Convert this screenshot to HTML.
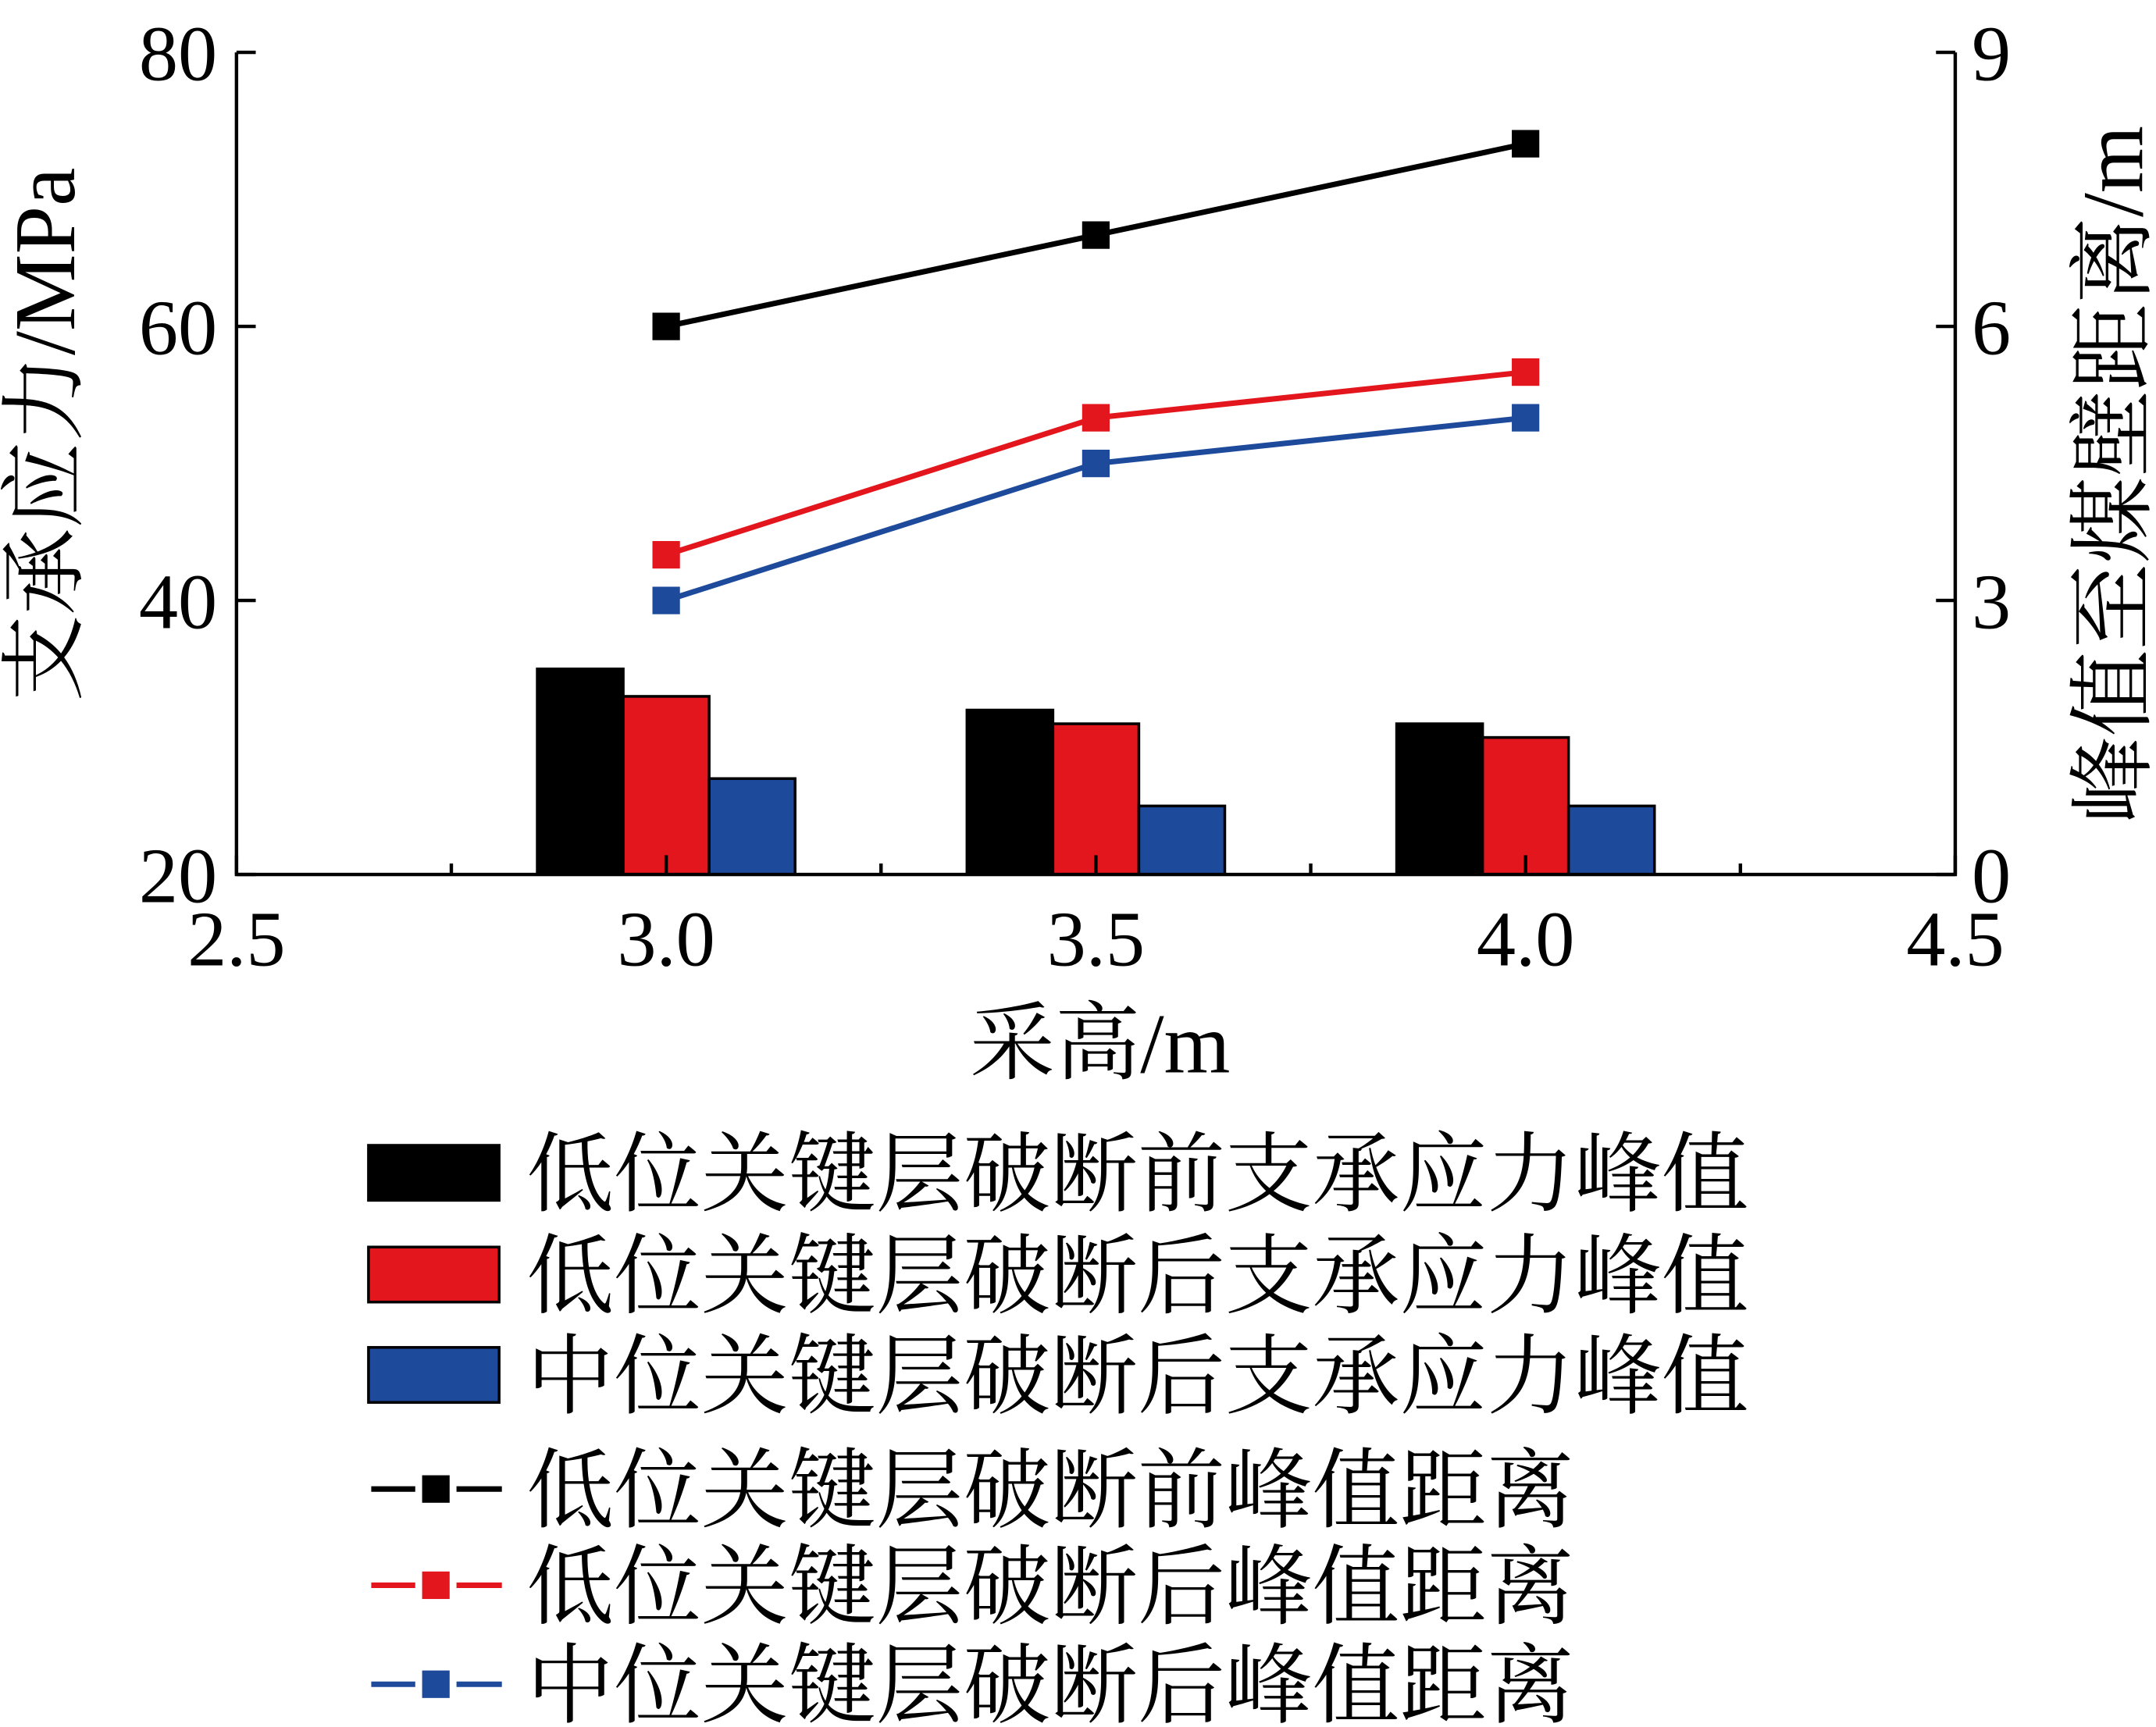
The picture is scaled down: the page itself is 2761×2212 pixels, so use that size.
<!DOCTYPE html>
<html><head><meta charset="utf-8"><style>
html,body{margin:0;padding:0;background:#fff;}
svg{display:block;}
text{font-family:"Liberation Serif","Noto Serif CJK SC",serif;fill:#000;}
</style></head><body>
<svg id="chart" width="2761" height="2212" viewBox="0 0 1568 1256" xmlns="http://www.w3.org/2000/svg"></svg>
<script>
const categories=[3.0,3.5,4.0];
const barBefore=[35,32,31];
const barAfterLow=[33,31,30];
const barAfterMid=[27,25,25];
const distBefore=[6.0,7.0,8.0];
const distAfterLow=[3.5,5.0,5.5];
const distAfterMid=[3.0,4.5,5.0];
const xTicks=["2.5","3.0","3.5","4.0","4.5"];
const yLeftTicks=["20","40","60","80"];
const yRightTicks=["0","3","6","9"];
const legendLabels=["低位关键层破断前支承应力峰值","低位关键层破断后支承应力峰值","中位关键层破断后支承应力峰值","低位关键层破断前峰值距离","低位关键层破断后峰值距离","中位关键层破断后峰值距离"];

const svg=document.getElementById('chart');
const NS='http://www.w3.org/2000/svg';
const L=172,R=1422,T=38,B=636;
const xS=v=>L+(v-2.5)/2*(R-L);
const yL=v=>B-(v-20)/60*(B-T);
const yR=v=>B-v/9*(B-T);
function el(tag,attrs,parent){const e=document.createElementNS(NS,tag);for(const k in attrs)e.setAttribute(k,attrs[k]);(parent||svg).appendChild(e);return e;}
const colors=['#000000','#e3161d','#1e4a9c'];

const barSets=[barBefore,barAfterLow,barAfterMid];
barSets.forEach((arr,s)=>{arr.forEach((v,i)=>{
  const cx=xS(categories[i]+(s-1)*0.1);const w=xS(2.6)-xS(2.5);
  const r=el('rect',{x:cx-w/2,y:yL(v),width:w,height:B-yL(v),fill:colors[s],stroke:'#000','stroke-width':2});
  
  
});});

const lineSets=[distBefore,distAfterLow,distAfterMid];
lineSets.forEach((arr,s)=>{
  const pts=arr.map((v,i)=>xS(categories[i])+','+yR(v)).join(' ');
  const pl=el('polyline',{points:pts,fill:'none',stroke:colors[s],'stroke-width':4});
  
  
  arr.forEach((v,i)=>{
    const m=el('rect',{x:xS(categories[i])-10,y:yR(v)-10,width:20,height:20,fill:colors[s]});
    
    
  });
});

const ax=el('path',{d:`M${L},${T} L${L},${B} L${R},${B} L${R},${T}`,fill:'none',stroke:'#000','stroke-width':2.5});



for(let i=0;i<=8;i++){const v=2.5+i*0.25;const x=xS(v);el('line',{x1:x,y1:B,x2:x,y2:B-(i%2?8:14),stroke:'#000','stroke-width':2.5});}
xTicks.forEach(t=>{const x=xS(parseFloat(t));const tx=el('text',{x:x,y:B+66,'font-size':57,'text-anchor':'middle'});tx.textContent=t;
  
  });
yLeftTicks.forEach(t=>{const y=yL(parseFloat(t));el('line',{x1:L,y1:y,x2:L+14,y2:y,stroke:'#000','stroke-width':2.5});
  const tx=el('text',{x:L-14,y:y+20,'font-size':57,'text-anchor':'end'});tx.textContent=t;
  
  });
yRightTicks.forEach(t=>{const y=yR(parseFloat(t));el('line',{x1:R,y1:y,x2:R-14,y2:y,stroke:'#000','stroke-width':2.5});
  const tx=el('text',{x:R+12,y:y+20,'font-size':57,'text-anchor':'start'});tx.textContent=t;
  
  });

let t1=el('text',{x:800,y:780,'font-size':62,'text-anchor':'middle'});t1.textContent='采高/m';


let t2=el('text',{x:0,y:0,'font-size':63,'text-anchor':'middle',transform:'translate(54,316) rotate(-90)'});t2.textContent='支承应力/MPa';


let t3=el('text',{x:0,y:0,'font-size':63,'text-anchor':'middle',transform:'translate(1558,345) rotate(-90)'});t3.textContent='峰值至煤壁距离/m';



const rowsY=[853,927,1000,1083,1153,1225];
legendLabels.forEach((lab,i)=>{
  const y=rowsY[i];const c=colors[i%3];
  if(i<3){const r=el('rect',{x:268,y:y-20,width:95,height:40,fill:c,stroke:'#000','stroke-width':2});
    
    }
  else{el('line',{x1:270,y1:y,x2:302,y2:y,stroke:c,'stroke-width':4});
    el('line',{x1:332,y1:y,x2:365,y2:y,stroke:c,'stroke-width':4});
    const m=el('rect',{x:307,y:y-10,width:20,height:20,fill:c});
    
    }
  const tx=el('text',{x:383,y:y+23,'font-size':63.5});tx.textContent=lab;
  
  
});
</script>
</body></html>
